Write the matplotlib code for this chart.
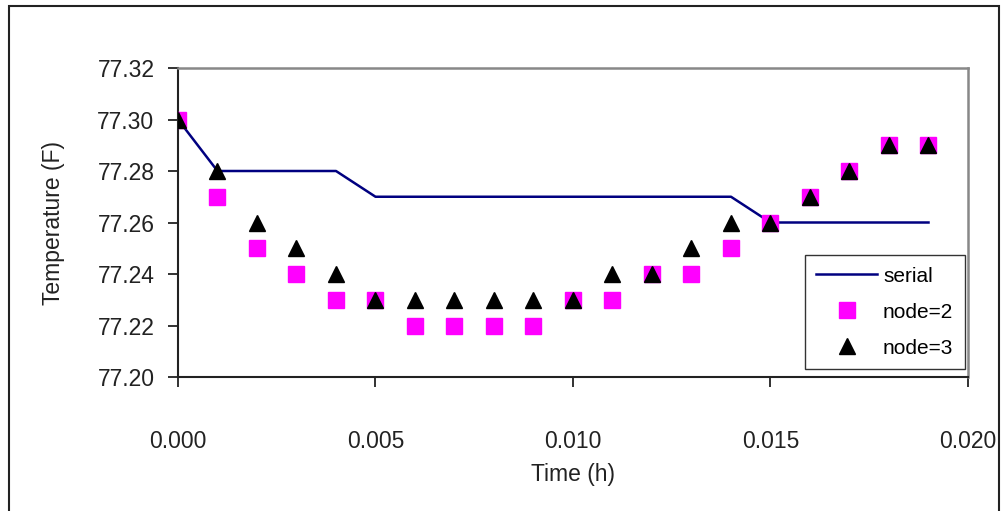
import matplotlib
matplotlib.use("Agg")
import matplotlib.pyplot as plt
from matplotlib.patches import Rectangle

time_h = [0.000, 0.001, 0.002, 0.003, 0.004, 0.005, 0.006, 0.007, 0.008, 0.009,
          0.010, 0.011, 0.012, 0.013, 0.014, 0.015, 0.016, 0.017, 0.018, 0.019]
serial = [77.30, 77.28, 77.28, 77.28, 77.28, 77.27, 77.27, 77.27, 77.27, 77.27,
          77.27, 77.27, 77.27, 77.27, 77.27, 77.26, 77.26, 77.26, 77.26, 77.26]
node2 = [77.30, 77.27, 77.25, 77.24, 77.23, 77.23, 77.22, 77.22, 77.22, 77.22,
         77.23, 77.23, 77.24, 77.24, 77.25, 77.26, 77.27, 77.28, 77.29, 77.29]
node3 = [77.30, 77.28, 77.26, 77.25, 77.24, 77.23, 77.23, 77.23, 77.23, 77.23,
         77.23, 77.24, 77.24, 77.25, 77.26, 77.26, 77.27, 77.28, 77.29, 77.29]
x_ticks = [0.000, 0.005, 0.010, 0.015, 0.020]
y_ticks = [77.20, 77.22, 77.24, 77.26, 77.28, 77.30, 77.32]

plt.rcParams['font.family'] = ['Liberation Sans', 'DejaVu Sans']

fig = plt.figure(figsize=(10.03, 5.11), dpi=100)
ax = fig.add_axes([178/1003, 1-377/511, 790/1003, 309/511])

ax.plot(time_h, serial, color='#000080', lw=1.8, label='serial', zorder=2)
ax.plot(time_h, node2, ls='none', marker='s', ms=11.5, color='#FF00FF', mec='#FF00FF', label='node=2', zorder=3)
ax.plot(time_h, node3, ls='none', marker='^', ms=11.5, color='black', mec='black', label='node=3', zorder=4)

ax.set_xlim(0, 0.020)
ax.set_ylim(77.20, 77.32)
ax.set_xticks(x_ticks)
ax.set_xticklabels([f"{v:.3f}" for v in x_ticks])
ax.set_yticks(y_ticks)
ax.set_yticklabels([f"{v:.2f}" for v in y_ticks])
ax.tick_params(axis='both', direction='out', length=7, width=1.3, labelsize=16.5, colors='#222222')
ax.tick_params(axis='x', pad=31)
ax.tick_params(axis='y', pad=10)

for s in ['left', 'bottom']:
    ax.spines[s].set_color('#222222')
    ax.spines[s].set_linewidth(1.5)
for s in ['top', 'right']:
    ax.spines[s].set_color('#888888')
    ax.spines[s].set_linewidth(1.8)

ax.set_xlabel('Time (h)', fontsize=16.5, color='#222222', labelpad=7)
ax.set_ylabel('Temperature (F)', fontsize=16.5, color='#222222', labelpad=23)

leg = ax.legend(loc='lower right', bbox_to_anchor=(0.996, 0.026), borderaxespad=0,
                fontsize=15, frameon=True, fancybox=False, edgecolor='black',
                handlelength=2.9, labelspacing=0.81, handletextpad=0.3, borderpad=0.55)
leg.get_frame().set_linewidth(1.0)

fig.patches.append(Rectangle((9/1003, -0.05), 990/1003, 1.05 - 6/511, transform=fig.transFigure,
                             fill=False, edgecolor='#222222', lw=1.5, zorder=0))

fig.savefig('out.png', dpi=100)
